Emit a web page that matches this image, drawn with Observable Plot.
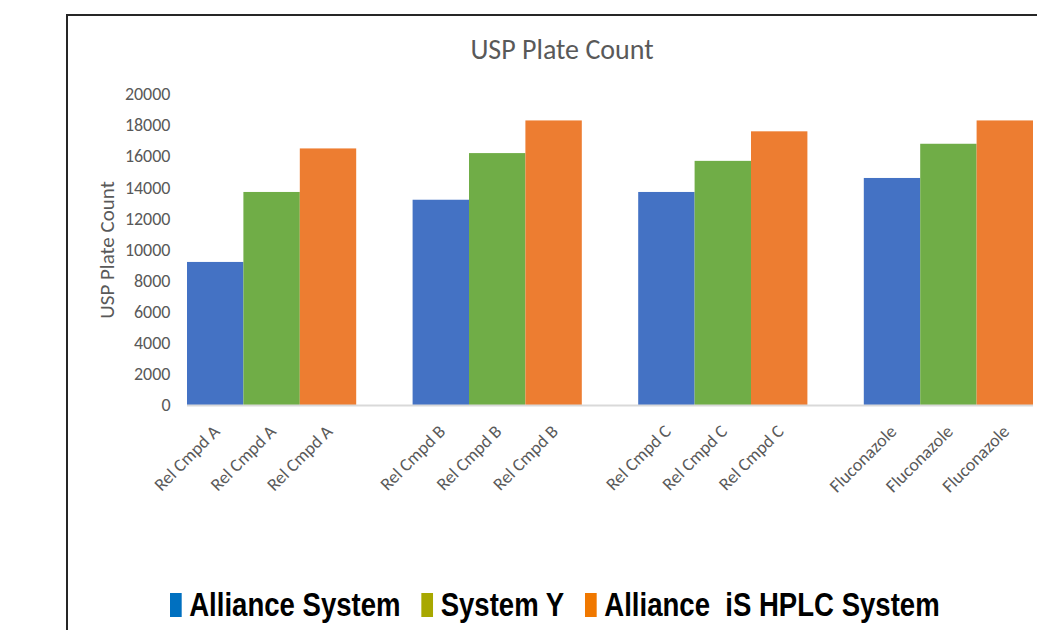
<!DOCTYPE html>
<html>
<head>
<meta charset="utf-8">
<script src="https://cdn.jsdelivr.net/npm/d3@7"></script>
<script src="https://cdn.jsdelivr.net/npm/@observablehq/plot@0.6"></script>
<style>
  html, body { margin: 0; padding: 0; background: #fff; overflow: hidden; width: 1037px; height: 630px; }
  #frame { position: absolute; left: 66px; top: 14px; width: 3000px; height: 3000px;
           border-left: 2px solid #262626; border-top: 2px solid #262626; z-index: 5; pointer-events: none; }
  #title { position: absolute; left: 67px; width: 990px; top: 31px; text-align: center;
           font-family: Calibri, Carlito, Lato, sans-serif; font-size: 28px; line-height: 38px; color: #595959; }
  #chart { position: absolute; left: 0; top: 0; }
  #legend { position: absolute; left: 170px; top: 586px; display: flex; align-items: center; white-space: pre;
            transform: scaleX(0.835); transform-origin: left center;
            font-family: "Liberation Sans", Arial, sans-serif;
            font-weight: bold; font-size: 33px; color: #000; }
  #legend .item { display: flex; align-items: center; margin-right: 25px; }
  #legend .sw { width: 14px; height: 24px; margin-right: 9px; }
</style>
</head>
<body>
<div id="title">USP Plate Count</div>
<div id="chart"></div>
<div id="legend"></div>
<div id="frame"></div>
<script>
const compounds = ["Rel Cmpd A", "Rel Cmpd B", "Rel Cmpd C", "Fluconazole"];
const systems = ["Alliance System", "System Y", "Alliance iS HPLC System"];
const legendLabels = ["Alliance System", "System Y", "Alliance  iS HPLC System"];
const allianceValues = [9200, 13200, 13700, 14600];
const systemYValues = [13700, 16200, 15700, 16800];
const allianceIsValues = [16500, 18300, 17600, 18300];
const barColors = ["#4472C4", "#70AD47", "#ED7D31"];
const legendColors = ["#0070C0", "#A8A800", "#F07800"];
const yTicks = [0, 2000, 4000, 6000, 8000, 10000, 12000, 14000, 16000, 18000, 20000];
const yLabel = "USP Plate Count";

const seriesValues = [allianceValues, systemYValues, allianceIsValues];
const data = [];
compounds.forEach((c, ci) => {
  systems.forEach((s, si) => {
    data.push({compound: c, system: s, key: c + "|" + s, value: seriesValues[si][ci]});
  });
});
// x domain: bars per compound, with one empty slot between compound groups
const xDomain = [];
compounds.forEach((c, ci) => {
  systems.forEach(s => xDomain.push(c + "|" + s));
  if (ci < compounds.length - 1) xDomain.push("gap" + ci);
});

const font = "Calibri, Carlito, Lato, sans-serif";
const plot = Plot.plot({
  width: 1037,
  height: 520,
  marginLeft: 187,
  marginRight: 4,
  marginTop: 94,
  marginBottom: 115,
  style: {background: "transparent", fontFamily: font, fontSize: "16px", color: "#595959", overflow: "visible"},
  x: {domain: xDomain, padding: 0, round: false, axis: null},
  y: {domain: [0, 20000], ticks: yTicks, axis: null},
  color: {domain: systems, range: barColors},
  marks: [
    Plot.axisY({ticks: yTicks, tickSize: 0, tickPadding: 17, tickFormat: d => String(d), label: null, fontSize: 18, fill: "#595959"}),
    Plot.barY(data, {x: "key", y: "value", fill: "system"}),
    Plot.ruleY([0], {stroke: "#D9D9D9", strokeWidth: 2}),
    Plot.text(data, {x: "key", y: () => 0, text: "compound", rotate: -45, textAnchor: "end",
                     dx: 1, dy: 23, fontSize: 18, fill: "#595959"}),
    Plot.text([yLabel], {frameAnchor: "left", text: d => d, rotate: -90, textAnchor: "middle",
                         dx: -80, fontSize: 21, fill: "#595959"})
  ]
});
document.getElementById("chart").appendChild(plot);

const legend = document.getElementById("legend");
legendLabels.forEach((lab, i) => {
  const item = document.createElement("div");
  item.className = "item";
  const sw = document.createElement("div");
  sw.className = "sw";
  sw.style.background = legendColors[i];
  const t = document.createElement("span");
  t.textContent = lab;
  item.appendChild(sw);
  item.appendChild(t);
  legend.appendChild(item);
});
</script>
</body>
</html>
